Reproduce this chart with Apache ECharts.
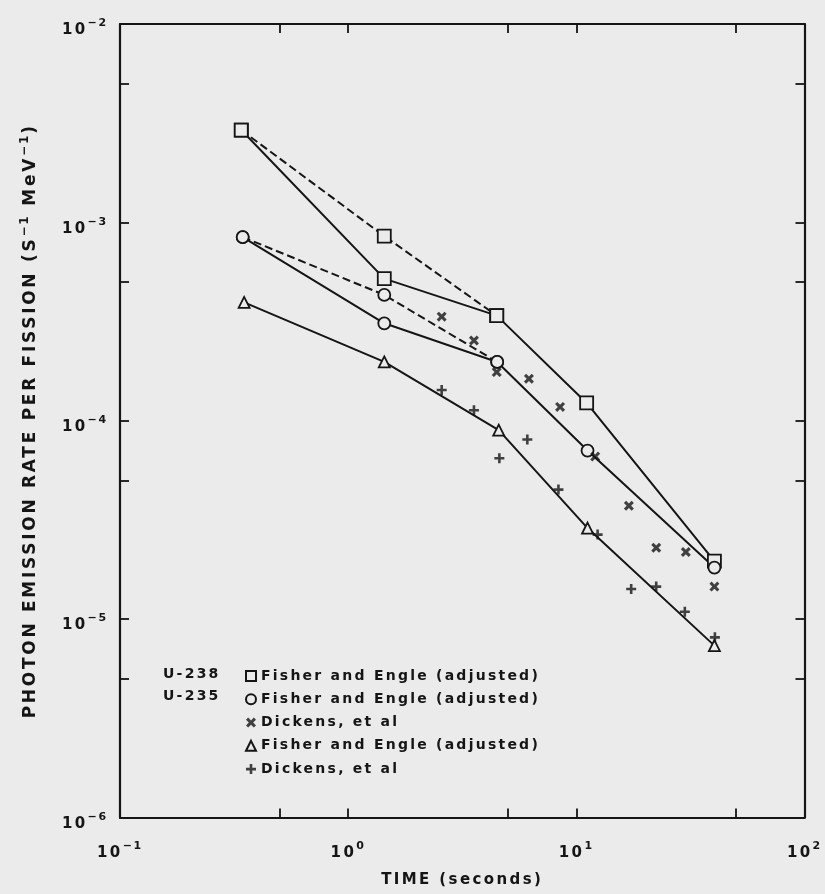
<!DOCTYPE html>
<html><head><meta charset="utf-8">
<script src="https://cdn.jsdelivr.net/npm/echarts@6/dist/echarts.min.js"></script>
<style>html,body{margin:0;padding:0;background:#ebebeb}#c{width:825px;height:894px}</style>
</head><body><div id="c"></div>
<script>
// ---- widen lettering like the original stencil lettering ----
(function () {
  var P = window.CanvasRenderingContext2D && CanvasRenderingContext2D.prototype;
  if (!P || !('letterSpacing' in P)) return;
  var ft = P.fillText, st = P.strokeText, mt = P.measureText;
  function ls(ctx) {
    var m = /(\d+(?:\.\d+)?)px/.exec(ctx.font);
    var s = m ? parseFloat(m[1]) : 12;
    ctx.letterSpacing = (s * 0.16).toFixed(2) + 'px';
  }
  P.fillText = function () { ls(this); return ft.apply(this, arguments); };
  P.strokeText = function () { ls(this); return st.apply(this, arguments); };
  P.measureText = function () { ls(this); return mt.apply(this, arguments); };
})();

// ---- data (time in s, photon emission rate per fission in s^-1 MeV^-1) ----
const u238FisherT = [0.34, 1.44, 4.48, 11.1, 40.3];
const u238FisherV = [2.92e-3, 5.21e-4, 3.39e-4, 1.23e-4, 1.96e-5];
const u238DashT   = [0.34, 1.44, 4.48];
const u238DashV   = [2.92e-3, 8.53e-4, 3.39e-4];

const u235FisherT = [0.345, 1.44, 4.5, 11.2, 40.3];
const u235FisherV = [8.43e-4, 3.10e-4, 1.98e-4, 7.08e-5, 1.82e-5];
const u235DashT   = [0.345, 1.44, 4.5];
const u235DashV   = [8.43e-4, 4.31e-4, 1.98e-4];

const dickensXT = [2.57, 3.56, 4.48, 6.2, 8.49, 12.1, 17.0, 22.4, 30.2, 40.3];
const dickensXV = [3.35e-4, 2.54e-4, 1.76e-4, 1.63e-4, 1.175e-4, 6.6e-5, 3.73e-5, 2.29e-5, 2.18e-5, 1.46e-5];

const triFisherT = [0.35, 1.44, 4.57, 11.2, 40.3];
const triFisherV = [3.95e-4, 1.98e-4, 8.97e-5, 2.88e-5, 7.36e-6];

const dickensPlusT = [2.57, 3.56, 4.6, 6.1, 8.35, 12.4, 17.4, 22.4, 29.9, 40.5];
const dickensPlusV = [1.43e-4, 1.13e-4, 6.47e-5, 8.05e-5, 4.5e-5, 2.67e-5, 1.42e-5, 1.46e-5, 1.09e-5, 8.1e-6];

const timeTicks  = [0.5, 1, 5, 10, 50];
const timeLabels = [0.1, 1, 10, 100];
const rateTicks  = [5e-6, 1e-5, 5e-5, 1e-4, 5e-4, 1e-3, 5e-3];
const rateLabels = [1e-6, 1e-5, 1e-4, 1e-3, 1e-2];

const legendText = {
  'U-238 Fisher': 'Fisher and Engle (adjusted)',
  'U-235 Fisher': 'Fisher and Engle (adjusted)',
  'U-235 Dickens': 'Dickens, et al',
  'Low Fisher': 'Fisher and Engle (adjusted)',
  'Low Dickens': 'Dickens, et al'
};
const groupLabels = ['U-238', 'U-235'];

// ---- helpers ----
const FONT = '"DejaVu Sans", "Liberation Sans", sans-serif';
const INK = '#151515';
const BG = '#ebebeb';
const X_PATH = 'path://M0,2.2 L2.2,0 L5,2.8 L7.8,0 L10,2.2 L7.2,5 L10,7.8 L7.8,10 L5,7.2 L2.2,10 L0,7.8 L2.8,5 Z';
const PLUS_PATH = 'path://M3.7,0 L6.3,0 L6.3,3.7 L10,3.7 L10,6.3 L6.3,6.3 L6.3,10 L3.7,10 L3.7,6.3 L0,6.3 L0,3.7 L3.7,3.7 Z';
const pairs = (t, v) => t.map((x, i) => [x, v[i]]);
const powLabel = v => {
  const e = Math.round(Math.log10(v));
  return '{a|10}{b|' + (e < 0 ? '\u2212' + (-e) : e) + '}';
};
const labelRich = {
  a: { fontSize: 15, fontWeight: 'bold', fontFamily: FONT, color: INK, lineHeight: 22, verticalAlign: 'bottom' },
  b: { fontSize: 11, fontWeight: 'bold', fontFamily: FONT, color: INK, verticalAlign: 'top' }
};
const lineAx = { show: true, lineStyle: { color: INK, width: 2.2 } };
const tickAx = vals => ({ show: true, inside: true, length: 9, lineStyle: { color: INK, width: 1.8 }, customValues: vals });

function lineSeries(name, t, v, symbol, size, dashed) {
  return {
    name: name, type: 'line', data: pairs(t, v),
    symbol: symbol, symbolSize: size, showSymbol: true,
    lineStyle: { color: INK, width: 2, type: dashed ? [8, 4] : 'solid' },
    itemStyle: { color: BG, borderColor: INK, borderWidth: 1.8 },
    emphasis: { disabled: true }, animation: false, z: dashed ? 2 : 3
  };
}
function scatterSeries(name, t, v, symbol, size) {
  return {
    name: name, type: 'scatter', data: pairs(t, v),
    symbol: symbol, symbolSize: size,
    itemStyle: { color: INK },
    emphasis: { disabled: true }, animation: false, z: 4
  };
}

const chart = echarts.init(document.getElementById('c'), null, { renderer: 'canvas' });
chart.setOption({
  backgroundColor: BG,
  animation: false,
  grid: { left: 120, right: 19, top: 24, bottom: 71 },
  xAxis: [{
    type: 'log', logBase: 10, min: 0.1, max: 100, position: 'bottom',
    name: 'TIME (seconds)', nameLocation: 'middle', nameGap: 54,
    nameTextStyle: { fontSize: 15, fontWeight: 'bold', fontFamily: FONT, color: INK },
    axisLine: lineAx, axisTick: tickAx(timeTicks), minorTick: { show: false },
    splitLine: { show: false },
    axisLabel: { customValues: timeLabels, formatter: powLabel, rich: labelRich, margin: 22 }
  }, {
    type: 'log', logBase: 10, min: 0.1, max: 100, position: 'top',
    axisLine: lineAx, axisTick: tickAx(timeTicks), splitLine: { show: false },
    axisLabel: { show: false }
  }],
  yAxis: [{
    type: 'log', logBase: 10, min: 1e-6, max: 1e-2, position: 'left',
    name: '{n|PHOTON EMISSION RATE PER FISSION (S}{s|\u22121}{n| MeV}{s|\u22121}{n|)}',
    nameLocation: 'middle', nameGap: 80, nameRotate: 90,
    nameTextStyle: {
      rich: {
        n: { fontSize: 17, fontWeight: 'bold', fontFamily: FONT, color: INK, lineHeight: 22, verticalAlign: 'bottom' },
        s: { fontSize: 12, fontWeight: 'bold', fontFamily: FONT, color: INK, verticalAlign: 'top' }
      }
    },
    axisLine: lineAx, axisTick: tickAx(rateTicks), splitLine: { show: false },
    axisLabel: { customValues: rateLabels, formatter: powLabel, rich: labelRich, margin: 12, padding: [8, 0, 0, 0] }
  }, {
    type: 'log', logBase: 10, min: 1e-6, max: 1e-2, position: 'right',
    axisLine: lineAx, axisTick: tickAx(rateTicks), splitLine: { show: false },
    axisLabel: { show: false }
  }],
  legend: {
    orient: 'vertical', left: 240, top: 663,
    itemWidth: 10, itemHeight: 10, itemGap: 7,
    selectedMode: false,
    formatter: name => legendText[name],
    textStyle: { fontSize: 14, fontWeight: 'bold', fontFamily: FONT, color: INK, lineHeight: 15 },
    data: [
      { name: 'U-238 Fisher', icon: 'rect' },
      { name: 'U-235 Fisher', icon: 'circle' },
      { name: 'U-235 Dickens', icon: X_PATH },
      { name: 'Low Fisher', icon: 'triangle' },
      { name: 'Low Dickens', icon: PLUS_PATH }
    ]
  },
  graphic: groupLabels.map((g, i) => ({
    type: 'text', left: 163, top: 666 + i * 22,
    style: { text: g, fontSize: 14, fontWeight: 'bold', fontFamily: FONT, fill: INK }
  })),
  series: [
    lineSeries('U-238 dashed', u238DashT, u238DashV, 'rect', 13, true),
    lineSeries('U-235 dashed', u235DashT, u235DashV, 'circle', 12, true),
    lineSeries('U-238 Fisher', u238FisherT, u238FisherV, 'rect', 13, false),
    lineSeries('U-235 Fisher', u235FisherT, u235FisherV, 'circle', 12, false),
    lineSeries('Low Fisher', triFisherT, triFisherV, 'triangle', 11, false),
    scatterSeries('U-235 Dickens', dickensXT, dickensXV, X_PATH, 10),
    scatterSeries('Low Dickens', dickensPlusT, dickensPlusV, PLUS_PATH, 10)
  ]
});
</script></body></html>
